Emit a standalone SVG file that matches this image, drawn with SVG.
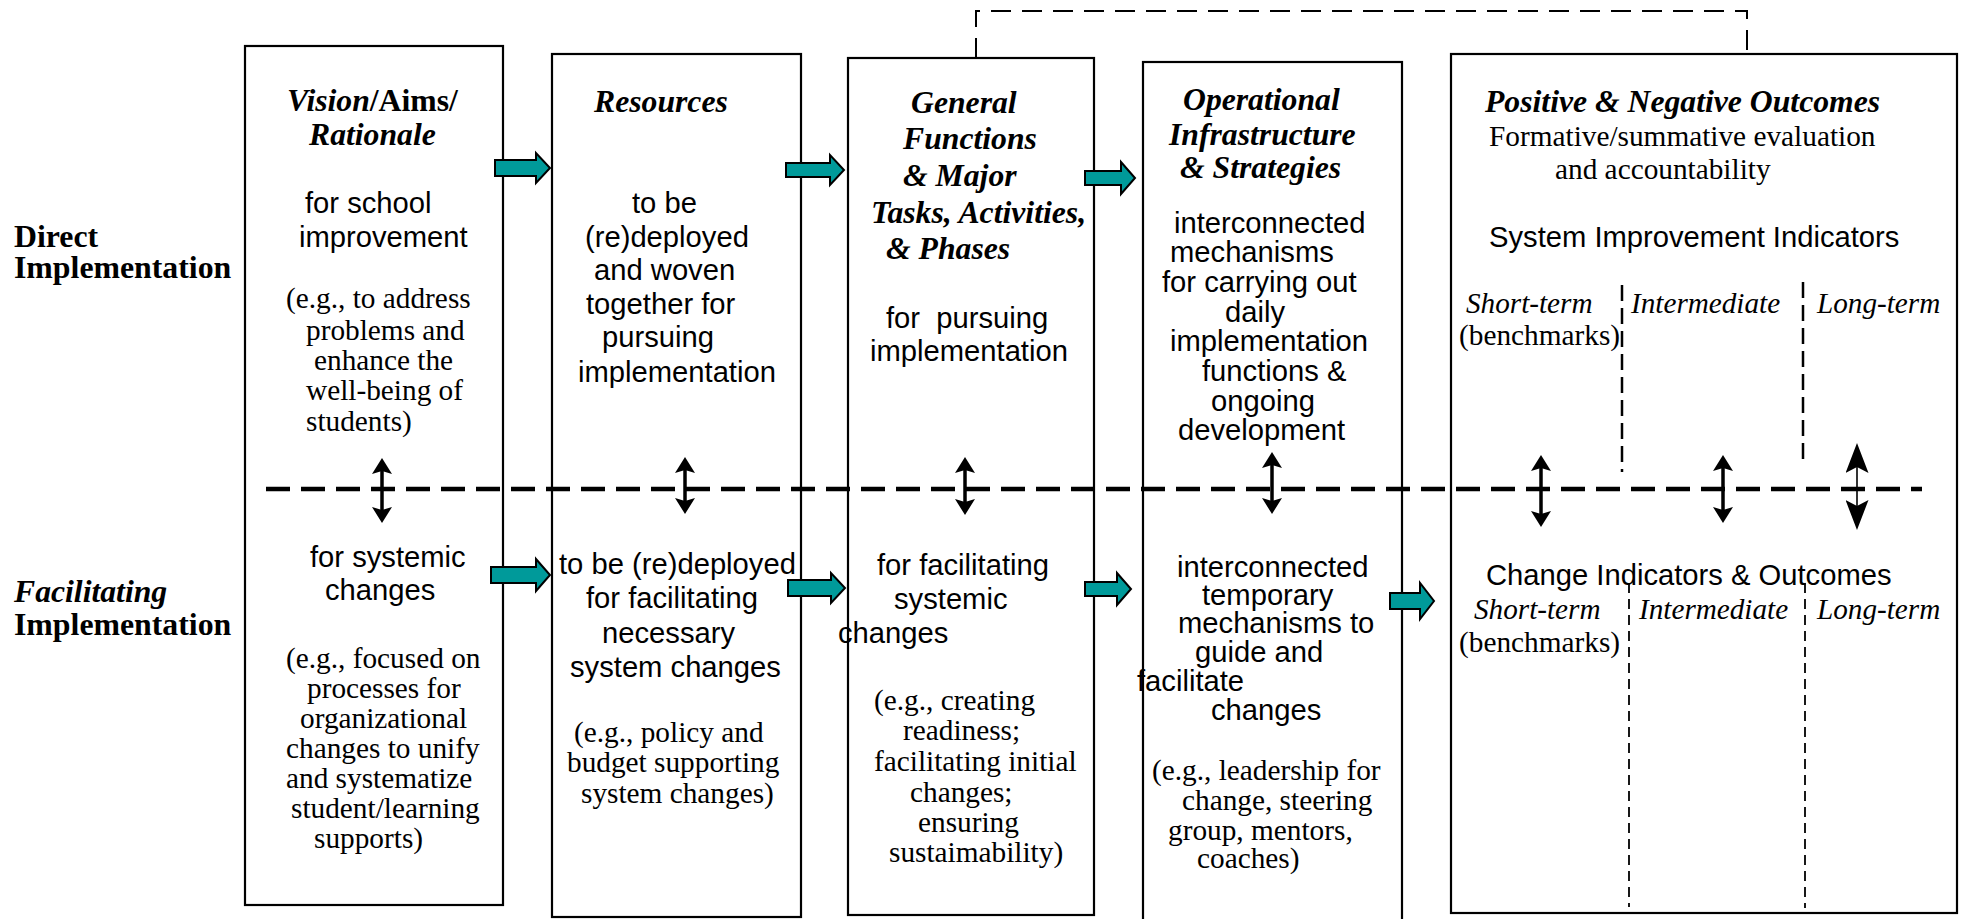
<svg xmlns="http://www.w3.org/2000/svg" width="1967" height="919" viewBox="0 0 1967 919">
<style>
.box{fill:#fff;stroke:#000;stroke-width:2.2}
.hd{font-family:"Liberation Serif",serif;font-weight:bold;font-style:italic;font-size:31.7px;fill:#000}
.lb{font-family:"Liberation Serif",serif;font-weight:bold;font-size:31.8px;fill:#000}
.ss{font-family:"Liberation Sans",sans-serif;font-size:29.2px;fill:#000}
.sf{font-family:"Liberation Serif",serif;font-size:29.3px;fill:#000}
.si{font-family:"Liberation Serif",serif;font-style:italic;font-size:29.2px;fill:#000}
.blk{fill:#009a9a;stroke:#000;stroke-width:2}
.dv{stroke:#000;stroke-width:3.5}
.mid{stroke:#000;stroke-width:4.5;stroke-dasharray:24 11;fill:none}
.top{stroke:#000;stroke-width:2;stroke-dasharray:20 11;fill:none}
.col{stroke:#000;stroke-width:2.5;stroke-dasharray:16 7;fill:none}
.col2{stroke:#000;stroke-width:1.8;stroke-dasharray:10 6;fill:none}
</style>
<defs>
<marker id="ah" viewBox="0 0 16 20" refX="8" refY="10" markerWidth="16" markerHeight="20" markerUnits="userSpaceOnUse" orient="auto-start-reverse"><path d="M0,0 L16,10 L0,20 L3,10 Z" fill="#000"/></marker>
<marker id="ahb" viewBox="0 0 30 23" refX="18" refY="11.5" markerWidth="30" markerHeight="23" markerUnits="userSpaceOnUse" orient="auto-start-reverse"><path d="M0,0 L30,11.5 L0,23 L6,11.5 Z" fill="#000"/></marker>
</defs>

<g id="labels">
<text class="lb" x="14" y="247">Direct</text>
<text class="lb" x="14" y="278">Implementation</text>
<text class="hd" x="14" y="602">Facilitating</text>
<text class="lb" x="14" y="635">Implementation</text>
</g>

<g id="node-vision">
<rect class="box" x="245" y="46" width="258" height="859"/>
<text class="hd" x="287" y="111">Vision<tspan font-style="normal">/Aims/</tspan></text>
<text class="hd" x="309" y="145">Rationale</text>
<text class="ss" x="305" y="213">for school</text>
<text class="ss" x="299" y="247">improvement</text>
<text class="sf" x="286" y="308">(e.g., to address</text>
<text class="sf" x="306" y="340">problems and</text>
<text class="sf" x="314" y="370">enhance the</text>
<text class="sf" x="306" y="400">well-being of</text>
<text class="sf" x="306" y="431">students)</text>
<text class="ss" x="310" y="567">for systemic</text>
<text class="ss" x="325" y="600">changes</text>
<text class="sf" x="286" y="668">(e.g., focused on</text>
<text class="sf" x="307" y="698">processes for</text>
<text class="sf" x="300" y="728">organizational</text>
<text class="sf" x="286" y="758">changes to unify</text>
<text class="sf" x="286" y="788">and systematize</text>
<text class="sf" x="291" y="818">student/learning</text>
<text class="sf" x="314" y="848">supports)</text>
</g>

<g id="node-resources">
<rect class="box" x="552" y="54" width="249" height="863"/>
<text class="hd" x="594" y="112">Resources</text>
<text class="ss" x="632" y="213">to be</text>
<text class="ss" x="585" y="247">(re)deployed</text>
<text class="ss" x="594" y="280">and woven</text>
<text class="ss" x="586" y="314">together for</text>
<text class="ss" x="602" y="347">pursuing</text>
<text class="ss" x="578" y="382">implementation</text>
<text class="ss" x="559" y="574">to be (re)deployed</text>
<text class="ss" x="586" y="608">for facilitating</text>
<text class="ss" x="602" y="643">necessary</text>
<text class="ss" x="570" y="677">system changes</text>
<text class="sf" x="574" y="742">(e.g., policy and</text>
<text class="sf" x="567" y="772">budget supporting</text>
<text class="sf" x="581" y="803">system changes)</text>
</g>

<g id="node-functions">
<rect class="box" x="848" y="58" width="246" height="857"/>
<text class="hd" x="911" y="113">General</text>
<text class="hd" x="903" y="149">Functions</text>
<text class="hd" x="903" y="186">&amp; Major</text>
<text class="hd" x="871" y="223">Tasks, Activities,</text>
<text class="hd" x="886" y="259">&amp; Phases</text>
<text class="ss" x="886" y="328" xml:space="preserve">for  pursuing</text>
<text class="ss" x="870" y="361">implementation</text>
<text class="ss" x="877" y="575">for facilitating</text>
<text class="ss" x="894" y="609">systemic</text>
<text class="ss" x="838" y="643">changes</text>
<text class="sf" x="874" y="710">(e.g., creating</text>
<text class="sf" x="903" y="740">readiness;</text>
<text class="sf" x="874" y="771">facilitating initial</text>
<text class="sf" x="910" y="802">changes;</text>
<text class="sf" x="918" y="832">ensuring</text>
<text class="sf" x="889" y="862">sustaimability)</text>
</g>

<g id="node-infrastructure">
<rect class="box" x="1143" y="62" width="259" height="870"/>
<text class="hd" x="1183" y="110">Operational</text>
<text class="hd" x="1169" y="145">Infrastructure</text>
<text class="hd" x="1180" y="178">&amp; Strategies</text>
<text class="ss" x="1174" y="233">interconnected</text>
<text class="ss" x="1170" y="262">mechanisms</text>
<text class="ss" x="1162" y="292">for carrying out</text>
<text class="ss" x="1225" y="322">daily</text>
<text class="ss" x="1170" y="351">implementation</text>
<text class="ss" x="1202" y="381">functions &amp;</text>
<text class="ss" x="1211" y="411">ongoing</text>
<text class="ss" x="1178" y="440">development</text>
<text class="ss" x="1177" y="577">interconnected</text>
<text class="ss" x="1202" y="605">temporary</text>
<text class="ss" x="1178" y="633">mechanisms to</text>
<text class="ss" x="1195" y="662">guide and</text>
<text class="ss" x="1137" y="691">facilitate</text>
<text class="ss" x="1211" y="720">changes</text>
<text class="sf" x="1152" y="780">(e.g., leadership for</text>
<text class="sf" x="1182" y="810">change, steering</text>
<text class="sf" x="1168" y="840">group, mentors,</text>
<text class="sf" x="1197" y="868">coaches)</text>
</g>

<g id="node-outcomes">
<rect class="box" x="1451" y="54" width="506" height="859"/>
<text class="hd" x="1485" y="112">Positive &amp; Negative Outcomes</text>
<text class="sf" x="1489" y="146">Formative/summative evaluation</text>
<text class="sf" x="1555" y="179">and accountability</text>
<text class="ss" x="1489" y="247">System Improvement Indicators</text>
<path class="col" d="M1622,285 V472 M1803,282 V464"/>
<text class="si" x="1466" y="313">Short-term</text>
<text class="sf" x="1459" y="345">(benchmarks)</text>
<text class="si" x="1631" y="313">Intermediate</text>
<text class="si" x="1817" y="313">Long-term</text>
<path class="col2" d="M1629,583 V907 M1805,583 V908"/>
<text class="ss" x="1486" y="585">Change Indicators &amp; Outcomes</text>
<text class="si" x="1474" y="619">Short-term</text>
<text class="sf" x="1459" y="652">(benchmarks)</text>
<text class="si" x="1639" y="619">Intermediate</text>
<text class="si" x="1817" y="619">Long-term</text>
</g>

<g id="connectors">
<path class="mid" d="M266,489 H1922"/>
<path class="top" d="M976,58 V11 H1747 V54"/>
<path class="blk" d="M495,160 H536 V153 L550,168 L536,183 V176 H495 Z"/>
<path class="blk" d="M786,163 H830 V155 L844,170 L830,185 V177 H786 Z"/>
<path class="blk" d="M1085,171 H1121 V162 L1135,178 L1121,194 V185 H1085 Z"/>
<path class="blk" d="M491,567 H536 V559 L550,575 L536,591 V583 H491 Z"/>
<path class="blk" d="M788,580 H831 V573 L845,588 L831,603 V596 H788 Z"/>
<path class="blk" d="M1085,582 H1117 V573 L1131,589 L1117,605 V596 H1085 Z"/>
<path class="blk" d="M1390,593 H1420 V583 L1434,601 L1420,619 V609 H1390 Z"/>
<line class="dv" x1="382" y1="466" x2="382" y2="515" marker-start="url(#ah)" marker-end="url(#ah)"/>
<line class="dv" x1="685" y1="465" x2="685" y2="506" marker-start="url(#ah)" marker-end="url(#ah)"/>
<line class="dv" x1="965" y1="465" x2="965" y2="507" marker-start="url(#ah)" marker-end="url(#ah)"/>
<line class="dv" x1="1272" y1="460" x2="1272" y2="506" marker-start="url(#ah)" marker-end="url(#ah)"/>
<line class="dv" x1="1541" y1="463" x2="1541" y2="519" marker-start="url(#ah)" marker-end="url(#ah)"/>
<line class="dv" x1="1723" y1="463" x2="1723" y2="515" marker-start="url(#ah)" marker-end="url(#ah)"/>
<line stroke="#000" stroke-width="1.6" x1="1857" y1="455" x2="1857" y2="518" marker-start="url(#ahb)" marker-end="url(#ahb)"/>
</g>
</svg>
